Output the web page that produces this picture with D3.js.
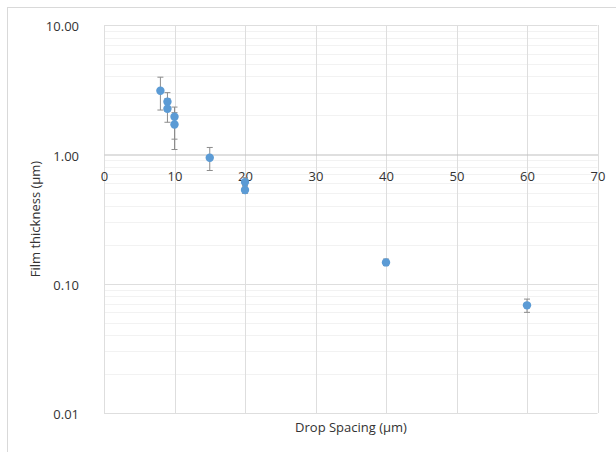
<!DOCTYPE html>
<html>
<head>
<meta charset="utf-8">
<script src="https://cdn.jsdelivr.net/npm/d3@7"></script>
<style>
  body { margin: 0; background: #fff; }
  text { font-family: "Open Sans", sans-serif; fill: #333; }
</style>
</head>
<body>
<div id="chart"></div>
<script>
// drop spacing (µm) and film thickness (µm)
const spacing   = [8,    9,    9,    10,   10,   15,   20,   20,   40,    60];
const thickness = [3.1,  2.55, 2.25, 1.95, 1.70, 0.94, 0.61, 0.53, 0.146, 0.068];
const errTop    = [3.95, 3.0,  2.7,  2.32, 2.1,  1.13, 0.66, 0.57, 0.155, 0.076];
const errBottom = [2.2,  2.15, 1.77, 1.31, 1.09, 0.75, 0.57, 0.50, 0.138, 0.060];

const xTicks = [0, 10, 20, 30, 40, 50, 60, 70];
const yTicks = [0.01, 0.1, 1, 10];

const width = 616, height = 452;
const svg = d3.select('#chart')
  .append('svg')
  .attr('width', width)
  .attr('height', height);

// chart border
svg.append('rect')
  .attr('x', 7.5).attr('y', 7.5)
  .attr('width', 700).attr('height', 500)
  .attr('fill', 'none')
  .attr('stroke', '#d9d9d9');

const x = d3.scaleLinear().domain([0, 70]).range([104, 597.5]);
const y = d3.scaleLog().domain([0.01, 10]).range([413, 25]);

// minor log grid
const minor = [];
[0.01, 0.1, 1].forEach(d => { for (let k = 2; k <= 9; k++) minor.push(d * k); });
svg.append('g').selectAll('line')
  .data(minor)
  .enter().append('line')
  .attr('x1', x(0)).attr('x2', x(70))
  .attr('y1', d => Math.round(y(d)) + 0.5).attr('y2', d => Math.round(y(d)) + 0.5)
  .style('stroke', '#f2f2f2');

// major grid
svg.append('g').selectAll('line')
  .data(yTicks.filter(d => d !== 1))
  .enter().append('line')
  .attr('x1', x(0)).attr('x2', x(70))
  .attr('y1', d => Math.round(y(d)) + 0.5).attr('y2', d => Math.round(y(d)) + 0.5)
  .style('stroke', '#dedede');

svg.append('g').selectAll('line')
  .data(xTicks)
  .enter().append('line')
  .attr('x1', d => Math.round(x(d)) + 0.5).attr('x2', d => Math.round(x(d)) + 0.5)
  .attr('y1', y(10)).attr('y2', y(0.01))
  .style('stroke', '#dedede');

// x axis crosses at 1.00
const xAxis = svg.append('g')
  .attr('transform', `translate(0,${Math.round(y(1)) + 0.5})`)
  .call(d3.axisBottom(x).tickValues(xTicks).tickSize(0).tickPadding(17));
xAxis.select('.domain').attr('stroke', '#bfbfbf').attr('stroke-width', 1.2);
xAxis.selectAll('text').style('font-size', '13px').style('fill', '#333');

const yAxis = svg.append('g')
  .attr('transform', `translate(${x(0)},0)`)
  .call(d3.axisLeft(y).tickValues(yTicks).tickFormat(d3.format('.2f')).tickSize(0).tickPadding(25));
yAxis.select('.domain').remove();
yAxis.selectAll('text').style('font-size', '13px').style('fill', '#333').attr('dy', '0.45em');

// error bars
const bars = svg.append('g').selectAll('g')
  .data(spacing.map((s, i) => ({s, v: thickness[i], hi: errTop[i], lo: errBottom[i]})))
  .enter().append('g')
  .style('stroke', '#8c8c8c')
  .style('stroke-width', 1);
bars.append('line')
  .attr('x1', d => x(d.s)).attr('x2', d => x(d.s))
  .attr('y1', d => y(d.hi)).attr('y2', d => y(d.lo));
bars.append('line')
  .attr('x1', d => x(d.s) - 3).attr('x2', d => x(d.s) + 3)
  .attr('y1', d => y(d.hi)).attr('y2', d => y(d.hi));
bars.append('line')
  .attr('x1', d => x(d.s) - 3).attr('x2', d => x(d.s) + 3)
  .attr('y1', d => y(d.lo)).attr('y2', d => y(d.lo));

// points
svg.append('g').selectAll('circle')
  .data(spacing.map((s, i) => ({s, v: thickness[i]})))
  .enter().append('circle')
  .attr('cx', d => x(d.s))
  .attr('cy', d => y(d.v))
  .attr('r', 4.2)
  .style('fill', '#5b9bd5');

// axis titles
svg.append('text')
  .attr('x', 351).attr('y', 432)
  .attr('text-anchor', 'middle')
  .style('font-size', '13px')
  .text('Drop Spacing (µm)');

svg.append('text')
  .attr('transform', `translate(40,${(y(10) + y(0.01)) / 2}) rotate(-90)`)
  .attr('text-anchor', 'middle')
  .style('font-size', '13px')
  .text('Film thickness (µm)');
</script>
</body>
</html>
